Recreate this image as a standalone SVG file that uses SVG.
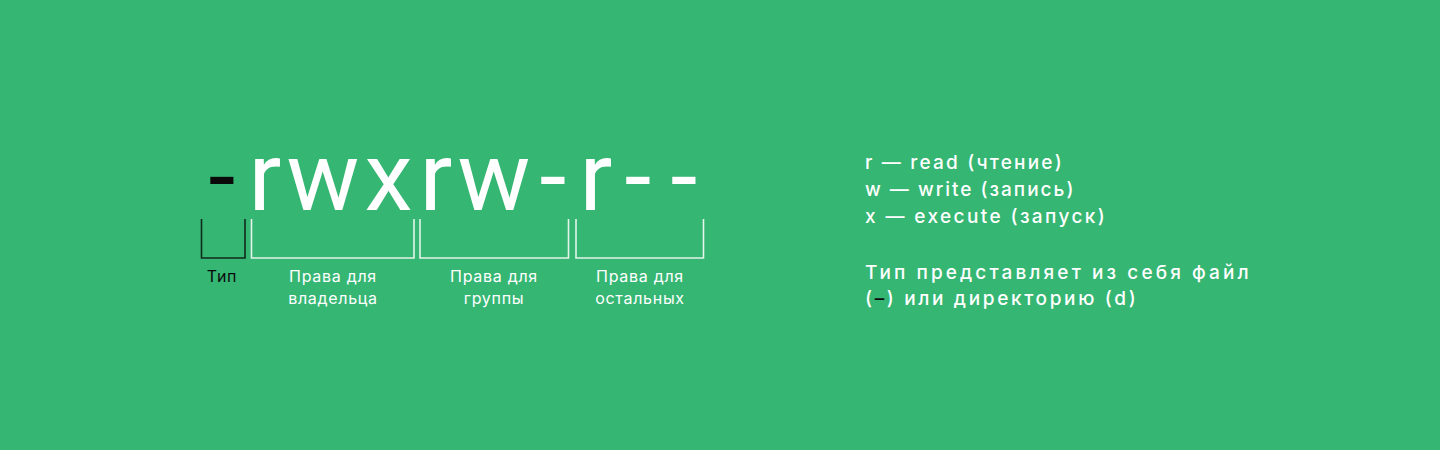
<svg xmlns="http://www.w3.org/2000/svg" width="1440" height="450" viewBox="0 0 1440 450">
<style>
.big{font-family:Roboto,"DejaVu Sans",sans-serif;font-size:97px;fill:#fff;text-anchor:middle}
.lbl{font-family:Inter,"Noto Sans",sans-serif;font-size:16px;letter-spacing:0.7px;fill:#fff;text-anchor:middle}
.leg{font-family:Inter,"Noto Sans",sans-serif;font-size:19px;font-weight:500;letter-spacing:2.3px;fill:#fff}
.br{fill:none;stroke:#e4f4ea;stroke-width:1.6}
.dark{fill:#0a0a0a}
</style>
<rect width="1440" height="450" fill="#35b673"/>
<g id="perm-string">
<text class="big" y="210" x="222 265 323 388.6 436 494 553 596 638 684"><tspan class="dark">-</tspan>rwxrw-r--</text>
</g>
<g id="connectors">
<path class="br" d="M201.5 219V258H245V219" style="stroke:#102a1c"/>
<path class="br" d="M251.5 219V258H414V219"/>
<path class="br" d="M420 219V258H568.5V219"/>
<path class="br" d="M576 219V258H703.5V219"/>
</g>
<g id="type-label"><text class="lbl" x="222" y="282" style="fill:#0a0a0a">Тип</text></g>
<g id="owner-label"><text class="lbl" x="333" y="282">Права для</text><text class="lbl" x="333" y="304">владельца</text></g>
<g id="group-label"><text class="lbl" x="494" y="282">Права для</text><text class="lbl" x="494" y="304">группы</text></g>
<g id="others-label"><text class="lbl" x="640" y="282">Права для</text><text class="lbl" x="640" y="304">остальных</text></g>
<g id="legend">
<text class="leg" x="865" y="169" style="letter-spacing:2.2px">r — read (чтение)</text>
<text class="leg" x="865" y="196" style="letter-spacing:2px">w — write (запись)</text>
<text class="leg" x="865" y="223" style="letter-spacing:2.4px">x — execute (запуск)</text>
<text class="leg" x="865" y="279" style="letter-spacing:3.1px">Тип представляет из себя файл</text>
<text class="leg" x="865" y="305" style="letter-spacing:2.65px">(<tspan class="dark">–</tspan>) или директорию (d)</text>
</g>
</svg>
